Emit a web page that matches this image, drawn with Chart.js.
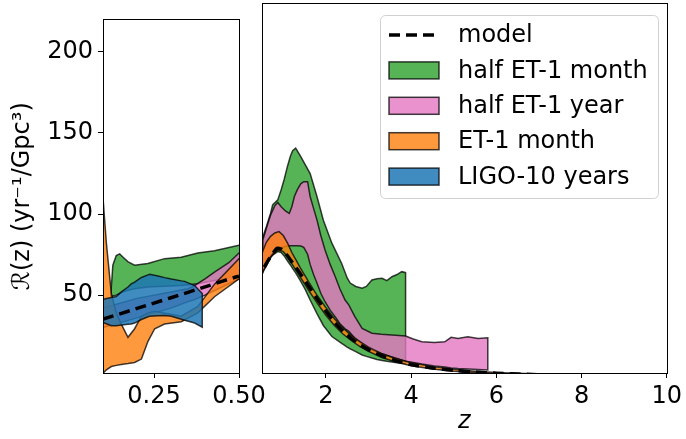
<!DOCTYPE html>
<html>
<head>
<meta charset="utf-8">
<script src="https://cdn.jsdelivr.net/npm/chart.js@4.4.1/dist/chart.umd.min.js"></script>
<style>
  html, body { margin: 0; padding: 0; background: #fff; }
  #wrap { position: relative; width: 686px; height: 439px; overflow: hidden; }
  #leftChart { position: absolute; left: 0; top: 0; }
  #rightChart { position: absolute; left: 250px; top: 0; }
</style>
</head>
<body>
<div id="wrap">
  <canvas id="leftChart" width="280" height="439"></canvas>
  <canvas id="rightChart" width="436" height="439"></canvas>
</div>
<script>
// merger rate model and reconstructed bands, R(z) in yr^-1 Gpc^-3
const modelZ = [0.1, 0.2, 0.3, 0.4, 0.5, 0.6, 0.7, 0.8, 0.86, 0.95, 1.0, 1.1, 1.2, 1.3, 1.4, 1.6, 1.8, 2.0, 2.2, 2.4, 2.6, 2.8, 3.0, 3.3, 3.6, 4.0, 4.5, 5.0, 5.5, 6.0, 7.0, 8.0, 9.0, 10.0];
const modelR = [35.2, 41.8, 48.4, 55.1, 61.7, 66.5, 70.5, 74, 75.5, 75, 74, 71, 67.5, 64, 60.5, 53, 45.5, 38.5, 32, 26.8, 22.3, 18.8, 15.8, 12.3, 9.6, 7, 5, 3.6, 2.6, 1.9, 1.0, 0.6, 0.35, 0.2];

// half ET - 1 month
const greenZ  = [0.1225, 0.129, 0.139, 0.149, 0.159, 0.174, 0.193, 0.232, 0.281, 0.33, 0.379, 0.428, 0.5, 0.6, 0.7, 0.75, 0.87, 0.95, 1.02, 1.1, 1.17, 1.22, 1.29, 1.35, 1.41, 1.52, 1.63, 1.79, 1.94, 2.14, 2.37, 2.5, 2.57, 2.7, 2.85, 2.95, 3.08, 3.2, 3.32, 3.43, 3.55, 3.67, 3.78, 3.87];
const greenHi = [49, 68.5, 74.4, 75.4, 73.4, 70.5, 68.5, 69.5, 72.5, 73.4, 76, 77.4, 80.7, 88, 96, 101, 104, 110, 116, 124, 130, 133, 134.5, 132, 129.5, 124.5, 119.5, 106, 92, 78.5, 66.5, 58, 55, 53, 52, 53, 56.8, 57.5, 57.8, 56.4, 58.7, 60, 61.7, 61.1];
const greenLo = [49, 49.5, 50, 51, 52, 53, 54, 55, 55.5, 56, 57, 59, 62, 66, 70, 71.5, 73.5, 73, 71, 68, 65.5, 63.5, 61, 58.5, 56, 51, 45, 37, 30, 23.5, 19.5, 17.3, 16.2, 14.6, 12.6, 11.8, 10.8, 10, 9.4, 8.9, 8.5, 8.1, 7.8, 7.5];

// half ET - 1 year
const pinkZ  = [0.1, 0.2, 0.3, 0.35, 0.366, 0.4, 0.43, 0.47, 0.5, 0.52, 0.6, 0.7, 0.8, 0.87, 0.95, 1.05, 1.14, 1.2, 1.26, 1.33, 1.41, 1.48, 1.57, 1.63, 1.71, 1.79, 1.88, 1.98, 2.1, 2.22, 2.33, 2.45, 2.54, 2.68, 2.85, 3.08, 3.3, 3.55, 3.87, 4.05, 4.25, 4.55, 4.79, 4.94, 5.1, 5.33, 5.57, 5.8];
const pinkHi = [42, 48, 52, 54, 55.5, 60, 64.5, 70, 76, 80.4, 87, 95, 100.5, 102.5, 100, 97.5, 96, 100, 106, 110, 113.5, 114.7, 114.7, 106, 99, 92.2, 83, 74.5, 66, 58.7, 51.5, 45, 42, 35.2, 28.3, 25.4, 24.8, 24.4, 23.8, 22, 20.4, 19.9, 20.4, 23, 22.4, 23.4, 22.4, 22.8];
const pinkLo = [30, 36, 42, 46, 47, 50, 53, 57, 60, 61.5, 65, 70, 73, 75, 76, 76.5, 77, 77, 77, 77, 76.8, 76, 72, 66, 60, 55, 49, 44, 39, 35, 31, 28, 26.5, 22.5, 19, 15.5, 13.5, 11.5, 9, 8.2, 7.3, 6.2, 5.5, 5, 4.6, 4.3, 4, 3.8];

// ET - 1 month
const orangeZ  = [0.1, 0.11, 0.1245, 0.139, 0.154, 0.1735, 0.193, 0.213, 0.232, 0.252, 0.281, 0.33, 0.379, 0.428, 0.5, 0.6, 0.7, 0.8, 0.9, 1.0, 1.1, 1.2, 1.3, 1.4, 1.6, 1.8, 2.0, 2.2, 2.4, 2.6, 2.8, 3.0, 3.3, 3.6, 4.0, 4.5, 5.0, 5.5, 6.0, 7.0, 8.0, 9.0, 10.0];
const orangeHi = [110, 82, 51, 39, 32, 24, 29.3, 37, 39, 40, 39, 37, 43, 56.8, 72.5, 79, 82.5, 84.5, 85.3, 83, 78.5, 73, 68.5, 64, 55.5, 47.5, 40.5, 34, 28.5, 24, 20.5, 17.2, 13.5, 10.8, 8, 5.8, 4.2, 3.1, 2.3, 1.4, 0.9, 0.6, 0.4];
const orangeLo = [1.8, 4, 6, 6.7, 7.3, 7.8, 8.5, 10.6, 21.4, 29.3, 32.2, 33.6, 39.1, 49, 60, 66.5, 70.5, 73.5, 74.5, 73.5, 70.5, 66.5, 62.5, 58.5, 50.5, 43, 36, 30, 25, 21, 17.5, 14.7, 11.3, 8.8, 6.3, 4.4, 3.1, 2.2, 1.6, 0.9, 0.5, 0.3, 0.2];

// LIGO - 10 years
const blueZ  = [0.1, 0.1245, 0.139, 0.154, 0.1735, 0.183, 0.193, 0.213, 0.2324, 0.2373, 0.2618, 0.2814, 0.301, 0.3304, 0.3402, 0.3696, 0.392];
const blueHi = [47.5, 48.5, 49.1, 52, 55, 56.9, 58, 60.9, 62.5, 62.8, 61.8, 60.8, 59.9, 58.8, 58.5, 55.9, 51];
const blueLo = [33.2, 31.2, 31.2, 31.6, 32, 32.2, 32.8, 35, 36.7, 37, 37.3, 37.5, 37, 35.1, 34.5, 32.8, 30.2];

const seriesNames = ['model', 'half ET-1 month', 'half ET-1 year', 'ET-1 month', 'LIGO-10 years'];
const yTicks = [50, 100, 150, 200];
const lowZTicks = [0.25, 0.5];
const highZTicks = [2, 4, 6, 8, 10];

const EDGE = 'rgba(0,0,0,0.75)';
const colors = {
  'half ET-1 month': 'rgba(44,160,44,0.8)',
  'half ET-1 year': 'rgba(227,119,194,0.8)',
  'ET-1 month': 'rgba(255,127,14,0.8)',
  'LIGO-10 years': 'rgba(31,119,180,0.85)'
};
const MODEL_DASH = [11, 6];

Chart.defaults.font.family = "'DejaVu Sans', sans-serif";
Chart.defaults.font.size = 24;
Chart.defaults.color = '#000';

// closed polygon: upper edge forward, lower edge back, like fill_between
function band(label, z, lo, hi, order) {
  const pts = z.map((v, i) => ({x: v, y: hi[i]}));
  for (let i = z.length - 1; i >= 0; i--) pts.push({x: z[i], y: lo[i]});
  pts.push({x: z[0], y: hi[0]});
  return {
    label, data: pts, order,
    fill: 'shape', backgroundColor: colors[label],
    borderColor: EDGE, borderWidth: 1.5,
    pointRadius: 0, tension: 0
  };
}

function makeDatasets() {
  return [
    {
      label: 'model', order: 0,
      data: modelZ.map((v, i) => ({x: v, y: modelR[i]})),
      borderColor: '#000', borderWidth: 3.5, borderDash: MODEL_DASH,
      pointRadius: 0, fill: false, tension: 0.3
    },
    band('LIGO-10 years', blueZ, blueLo, blueHi, 1),
    band('ET-1 month', orangeZ, orangeLo, orangeHi, 2),
    band('half ET-1 year', pinkZ, pinkLo, pinkHi, 3),
    band('half ET-1 month', greenZ, greenLo, greenHi, 4)
  ];
}

const frame = {
  id: 'frame',
  afterDraw(chart) {
    const {ctx, chartArea: a} = chart;
    ctx.save();
    ctx.strokeStyle = '#000';
    ctx.lineWidth = 1;
    ctx.strokeRect(Math.round(a.left) + 0.5, Math.round(a.top) + 0.5,
      Math.round(a.right - a.left), Math.round(a.bottom - a.top));
    ctx.restore();
  }
};

const insideLegend = {
  id: 'insideLegend',
  afterDraw(chart) {
    const ctx = chart.ctx;
    const x0 = 130, y0 = 15, w = 278, h = 183;
    ctx.save();
    ctx.beginPath();
    ctx.roundRect(x0 + 0.5, y0 + 0.5, w, h, 5);
    ctx.fillStyle = 'rgba(255,255,255,0.8)';
    ctx.fill();
    ctx.strokeStyle = '#d0d0d0';
    ctx.lineWidth = 1;
    ctx.stroke();
    ctx.font = "24px 'DejaVu Sans'";
    ctx.textBaseline = 'middle';
    seriesNames.forEach((name, i) => {
      const cy = 35 + i * 35.4;
      const hx = 139, hw = 50;
      if (name === 'model') {
        ctx.beginPath();
        ctx.setLineDash(MODEL_DASH);
        ctx.lineWidth = 3.5;
        ctx.strokeStyle = '#000';
        ctx.moveTo(hx, cy);
        ctx.lineTo(hx + hw, cy);
        ctx.stroke();
        ctx.setLineDash([]);
      } else {
        ctx.fillStyle = colors[name];
        ctx.fillRect(hx, cy - 8.5, hw, 17);
        ctx.strokeStyle = EDGE;
        ctx.lineWidth = 1.5;
        ctx.strokeRect(hx, cy - 8.5, hw, 17);
      }
      ctx.fillStyle = '#000';
      ctx.fillText(name, 208, cy + 1);
    });
    ctx.restore();
  }
};

function tickGrid() {
  return {display: true, drawOnChartArea: false, drawTicks: true, tickLength: 5, color: '#000', lineWidth: 1};
}

new Chart('leftChart', {
  type: 'line',
  data: {datasets: makeDatasets()},
  plugins: [frame],
  options: {
    responsive: false,
    animation: false,
    layout: {padding: {top: 3, right: 41, left: 0, bottom: 0}},
    plugins: {legend: {display: false}, tooltip: {enabled: false}},
    scales: {
      x: {
        type: 'linear', min: 0.1, max: 0.5,
        border: {display: false},
        grid: tickGrid(),
        afterBuildTicks: s => { s.ticks = lowZTicks.map(v => ({value: v})); },
        afterFit: s => { s.height = 66; },
        ticks: {padding: 4, maxRotation: 0, callback: v => v.toFixed(2)}
      },
      y: {
        min: 2, max: 220,
        border: {display: false},
        grid: tickGrid(),
        afterBuildTicks: s => { s.ticks = yTicks.map(v => ({value: v})); },
        afterFit: s => { s.width = 103; },
        ticks: {padding: 5},
        title: {display: true, text: 'ℛ(z) (yr⁻¹/Gpc³)', padding: {top: 8, bottom: 0}}
      }
    }
  }
});

new Chart('rightChart', {
  type: 'line',
  data: {datasets: makeDatasets()},
  plugins: [frame, insideLegend],
  options: {
    responsive: false,
    animation: false,
    layout: {padding: {top: 3, right: 16, left: 12, bottom: 0}},
    plugins: {legend: {display: false}, tooltip: {enabled: false}},
    scales: {
      x: {
        type: 'linear', min: 0.5, max: 10,
        border: {display: false},
        grid: tickGrid(),
        afterBuildTicks: s => { s.ticks = highZTicks.map(v => ({value: v})); },
        afterFit: s => { s.height = 66; },
        ticks: {padding: 4, maxRotation: 0},
        title: {display: true, text: 'z', font: {style: 'italic'}, padding: {top: 0, bottom: 3}}
      },
      y: {min: 2, max: 220, display: false}
    }
  }
});
</script>
</body>
</html>
